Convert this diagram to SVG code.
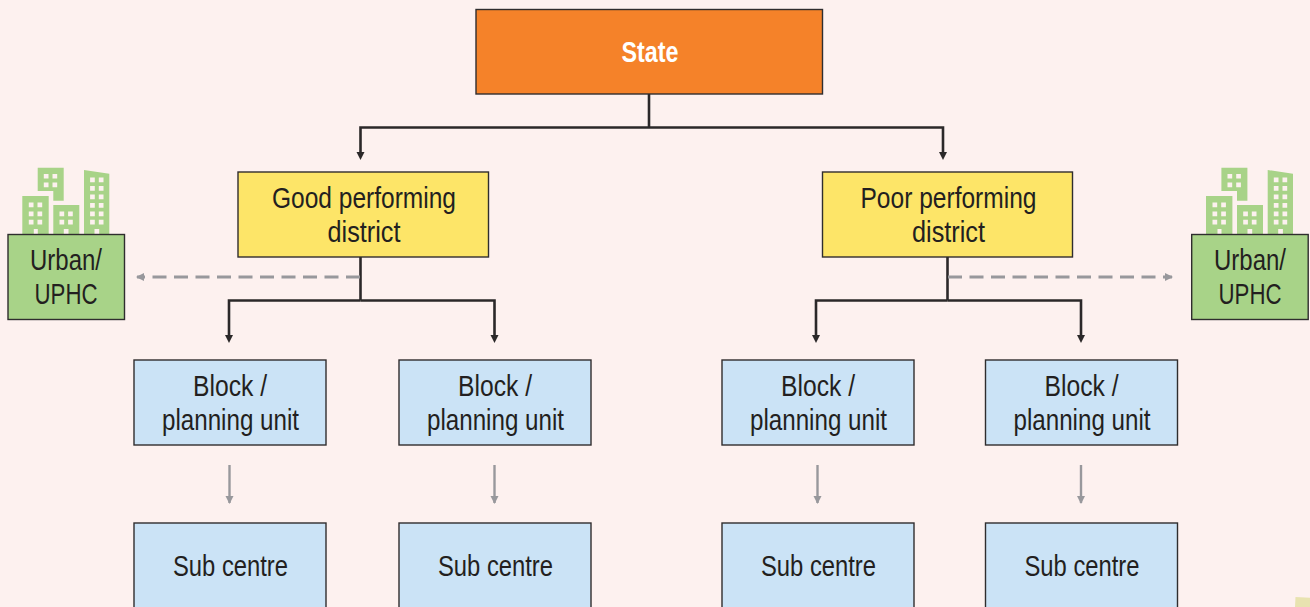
<svg xmlns="http://www.w3.org/2000/svg" width="1310" height="607" viewBox="0 0 1310 607">
<style>
.box{stroke:#2f2d2e;stroke-width:1.4}
.t{font-family:"Liberation Sans Narrow","Liberation Sans",Arial,sans-serif;font-size:29px;fill:#231f20;text-anchor:middle}
.s{font-family:"Liberation Sans Narrow","Liberation Sans",Arial,sans-serif;font-size:29px;font-weight:bold;fill:#fff;text-anchor:middle}
.blue{fill:#cbe3f6}.yel{fill:#fde568}.grn{fill:#a8d388}
.k{fill:none;stroke:#2b2829;stroke-width:2.6}
.g{fill:none;stroke:#98989c;stroke-width:2.4}
.d{stroke-dasharray:14 7.500;stroke-width:2.800}
.bd{fill:#a8d388}.w{fill:#fdf1ef}
</style>
<defs>
<marker id="ka" markerUnits="userSpaceOnUse" markerWidth="10" markerHeight="10" refX="4" refY="4" orient="auto"><path d="M0 0L8 4L0 8Z" fill="#2b2829"/></marker>
<marker id="ga" markerUnits="userSpaceOnUse" markerWidth="10" markerHeight="10" refX="7" refY="4" orient="auto"><path d="M0 0L8 4L0 8Z" fill="#98989c"/></marker>
<g id="city">
<path class="bd" d="M22.3 196H48.7V234H22.3ZM53.3 205H79.3V234H53.3ZM84 170L109.3 173.700V234H84ZM37.700 167.700H63.700V200.700H53.300V191H37.700Z"/>
<path class="w" d="M28.800 202.500h4.700v4.700h-4.700zM37.500 202.500h4.700v4.700h-4.700zM28.800 211.500h4.700v4.700h-4.700zM37.500 211.500h4.700v4.700h-4.700zM28.800 219.800h4.700v4.700h-4.700zM37.500 219.800h4.700v4.700h-4.700zM33.800 229h4v5h-4zM59.500 211.500h4.700v4.700h-4.700zM68.100 211.500h4.700v4.700h-4.700zM59.500 219.800h4.700v4.700h-4.700zM68.100 219.800h4.700v4.700h-4.700zM63.800 229h4.700v5h-4.700zM90.100 177.500h4.700v4.700h-4.700zM98.800 177.500h4.700v4.700h-4.700zM90.100 186.100h4.700v4.700h-4.700zM98.800 186.100h4.700v4.700h-4.700zM90.100 194.500h4.700v4.700h-4.700zM98.800 194.500h4.700v4.700h-4.700zM90.100 203.100h4.700v4.700h-4.700zM98.800 203.100h4.700v4.700h-4.700zM90.100 211.500h4.700v4.700h-4.700zM98.800 211.500h4.700v4.700h-4.700zM90.100 219.800h4.700v4.700h-4.700zM98.800 219.800h4.700v4.700h-4.700zM94.500 229h4.700v5h-4.700zM43.800 174h4.700v4.500h-4.700zM52.500 174h4.700v4.500h-4.700zM43.800 182.500h4.700v4.700h-4.700zM52.500 182.500h4.700v4.700h-4.700z"/>
</g>
</defs>
<rect width="1310" height="607" fill="#fdf1ef"/>
<path d="M1295.500 597L1310 597.800V607H1295Z" fill="#e8e3b0"/>
<g id="connectors">
<path class="k" d="M649 94V127.500"/>
<path class="k" d="M649 127.500H360.500V156" marker-end="url(#ka)"/>
<path class="k" d="M649 127.500H943V156" marker-end="url(#ka)"/>
<path class="k" d="M360.500 257V300.500"/>
<path class="k" d="M360.500 300.500H229V339" marker-end="url(#ka)"/>
<path class="k" d="M360.500 300.500H494.500V339" marker-end="url(#ka)"/>
<path class="k" d="M947.500 257V300.500"/>
<path class="k" d="M947.500 300.500H816V339" marker-end="url(#ka)"/>
<path class="k" d="M947.500 300.500H1081V339" marker-end="url(#ka)"/>
<path class="g d" d="M360 277H137" marker-end="url(#ga)"/>
<path class="g d" d="M948 277H1172" marker-end="url(#ga)"/>
<path class="g" d="M229.500 465V503" marker-end="url(#ga)"/>
<path class="g" d="M494.500 465V503" marker-end="url(#ga)"/>
<path class="g" d="M817.500 465V503" marker-end="url(#ga)"/>
<path class="g" d="M1081 465V503" marker-end="url(#ga)"/>
</g>
<g id="state"><rect class="box" x="476" y="9.500" width="346.500" height="84.500" fill="#f58229"/><text class="s" x="650" y="62" textLength="57" lengthAdjust="spacingAndGlyphs">State</text></g>
<g id="good"><rect class="box yel" x="238" y="172" width="250.500" height="85"/><text class="t" x="364" y="208" textLength="184" lengthAdjust="spacingAndGlyphs">Good performing</text><text class="t" x="364" y="242" textLength="73" lengthAdjust="spacingAndGlyphs">district</text></g>
<g id="poor"><rect class="box yel" x="822.500" y="172" width="250" height="85"/><text class="t" x="948.500" y="208" textLength="176" lengthAdjust="spacingAndGlyphs">Poor performing</text><text class="t" x="948.500" y="242" textLength="73" lengthAdjust="spacingAndGlyphs">district</text></g>
<g id="urban-left"><use href="#city"/><rect class="box grn" x="8" y="234.500" width="116.500" height="85"/><text class="t" x="66" y="270" textLength="72" lengthAdjust="spacingAndGlyphs">Urban/</text><text class="t" x="66" y="304" textLength="63" lengthAdjust="spacingAndGlyphs">UPHC</text></g>
<g id="urban-right"><use href="#city" x="1183.700"/><rect class="box grn" x="1191.700" y="234.500" width="116.500" height="85"/><text class="t" x="1250" y="270" textLength="72" lengthAdjust="spacingAndGlyphs">Urban/</text><text class="t" x="1250" y="304" textLength="63" lengthAdjust="spacingAndGlyphs">UPHC</text></g>
<g id="block-1"><rect class="box blue" x="134" y="360" width="192" height="85"/><text class="t" x="230" y="396" textLength="74" lengthAdjust="spacingAndGlyphs">Block /</text><text class="t" x="230.500" y="430" textLength="137" lengthAdjust="spacingAndGlyphs">planning unit</text></g>
<g id="block-2"><rect class="box blue" x="399" y="360" width="192" height="85"/><text class="t" x="495" y="396" textLength="74" lengthAdjust="spacingAndGlyphs">Block /</text><text class="t" x="495.500" y="430" textLength="137" lengthAdjust="spacingAndGlyphs">planning unit</text></g>
<g id="block-3"><rect class="box blue" x="722" y="360" width="192" height="85"/><text class="t" x="818" y="396" textLength="74" lengthAdjust="spacingAndGlyphs">Block /</text><text class="t" x="818.500" y="430" textLength="137" lengthAdjust="spacingAndGlyphs">planning unit</text></g>
<g id="block-4"><rect class="box blue" x="985.500" y="360" width="192" height="85"/><text class="t" x="1081.500" y="396" textLength="74" lengthAdjust="spacingAndGlyphs">Block /</text><text class="t" x="1082" y="430" textLength="137" lengthAdjust="spacingAndGlyphs">planning unit</text></g>
<g id="sub-1"><rect class="box blue" x="134" y="523" width="192" height="90"/><text class="t" x="230.500" y="576" textLength="115" lengthAdjust="spacingAndGlyphs">Sub centre</text></g>
<g id="sub-2"><rect class="box blue" x="399" y="523" width="192" height="90"/><text class="t" x="495.500" y="576" textLength="115" lengthAdjust="spacingAndGlyphs">Sub centre</text></g>
<g id="sub-3"><rect class="box blue" x="722" y="523" width="192" height="90"/><text class="t" x="818.500" y="576" textLength="115" lengthAdjust="spacingAndGlyphs">Sub centre</text></g>
<g id="sub-4"><rect class="box blue" x="985.500" y="523" width="192" height="90"/><text class="t" x="1082" y="576" textLength="115" lengthAdjust="spacingAndGlyphs">Sub centre</text></g>
</svg>
